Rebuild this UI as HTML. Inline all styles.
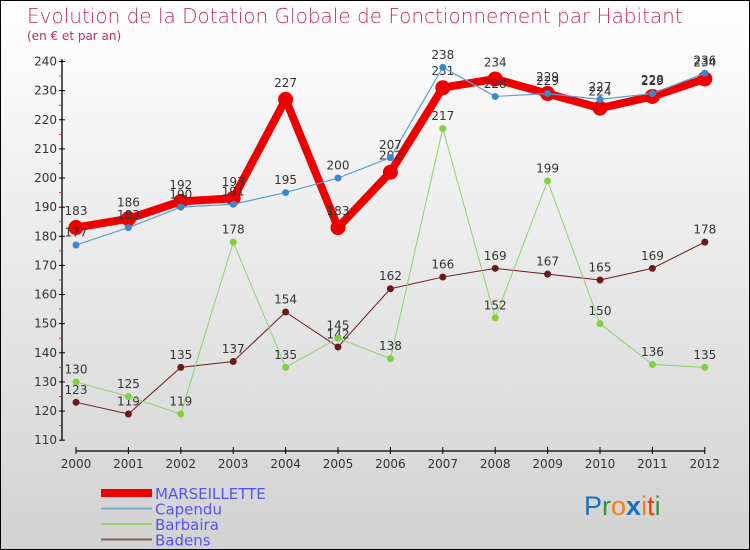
<!DOCTYPE html>
<html><head><meta charset="utf-8"><style>
html,body{margin:0;padding:0}
body{width:750px;height:550px;overflow:hidden;font-family:"DejaVu Sans","Liberation Sans",sans-serif}
#wrap{position:relative;width:748px;height:548px;border:1px solid #000;background:linear-gradient(#ffffff,#d2d2d2)}
</style></head><body>
<div id="wrap">
<svg id="chart" width="748" height="548" style="position:absolute;left:0;top:0">
<text x="26" y="22" font-size="20" fill="#c0305a" font-family="DejaVu Sans,sans-serif" font-weight="200">Evolution de la Dotation Globale de Fonctionnement par Habitant</text>
<text x="26" y="39" font-size="12" fill="#c0305a">(en € et par an)</text>
<g id="axes"></g><g id="series"></g><g id="legend"></g>
<text x="583" y="514" font-size="27" font-family="Liberation Sans,sans-serif"><tspan fill="#1a6fc0">P</tspan><tspan fill="#2a9a3a">r</tspan><tspan fill="#f08010">o</tspan><tspan fill="#1a6fc0" font-weight="bold">x</tspan><tspan fill="#f08010">i</tspan><tspan fill="#e04010">t</tspan><tspan fill="#2a9a3a">i</tspan></text>
</svg>
</div>
<script>
const years=[2000,2001,2002,2003,2004,2005,2006,2007,2008,2009,2010,2011,2012];
const yTicks=[110,120,130,140,150,160,170,180,190,200,210,220,230,240];
const marseillette=[183,186,192,193,227,183,202,231,234,229,224,228,234];
const capendu=[177,183,190,191,195,200,207,238,228,229,227,229,236];
const barbaira=[130,125,119,178,135,145,138,217,152,199,150,136,135];
const badens=[123,119,135,137,154,142,162,166,169,167,165,169,178];
const NS="http://www.w3.org/2000/svg";
function X(i){return 75+i*52.4;}
function Y(v){return 60.5+(240-v)*2.913;}
function mk(tag,attrs,parent){const e=document.createElementNS(NS,tag);for(const k in attrs)e.setAttribute(k,attrs[k]);parent.appendChild(e);return e;}
const ax=document.getElementById('axes');
let a=mk('line',{x1:61,y1:58,x2:61,y2:Y(110),stroke:'#000','stroke-width':1.3},ax);


yTicks.forEach(v=>{
 mk('line',{x1:58,y1:Y(v),x2:64,y2:Y(v),stroke:'#000'},ax);
 if(v<240)mk('line',{x1:58,y1:Y(v+5),x2:61,y2:Y(v+5),stroke:'#e03030'},ax);
 const t=mk('text',{x:56,y:Y(v)+4,'font-size':12,'text-anchor':'end',fill:'#333'},ax);t.textContent=v;
 
 
});
a=mk('line',{x1:X(0),y1:450,x2:X(12),y2:450,stroke:'#000','stroke-width':1.3},ax);


years.forEach((y,i)=>{
 mk('line',{x1:X(i),y1:446,x2:X(i),y2:453,stroke:'#000'},ax);
 const t=mk('text',{x:X(i),y:467,'font-size':12,'text-anchor':'middle',fill:'#333'},ax);t.textContent=y;
 
 
});
const series=[
 {name:'Badens',data:badens,color:'#6b1a1a',w:1,r:3.5,fill:'#6b1a1a'},
 {name:'Barbaira',data:barbaira,color:'#90d070',w:1,r:3.5,fill:'#80d040'},
 {name:'MARSEILLETTE',data:marseillette,color:'#ee0000',w:8,r:7.5,fill:'#ee0000'},
 {name:'Capendu',data:capendu,color:'#5fa0d0',w:1.2,r:3.5,fill:'#3a88cc'}
];
const sg=document.getElementById('series');
series.forEach(s=>{
 const g=mk('g',{},sg);
 
 
 const pts=s.data.map((v,i)=>X(i)+','+Y(v)).join(' ');
 mk('polyline',{points:pts,fill:'none',stroke:s.color,'stroke-width':s.w,'stroke-linejoin':'round'},g);
 s.data.forEach((v,i)=>{
  const c=mk('circle',{cx:X(i),cy:Y(v),r:s.r,fill:s.fill},g);
  
  
  const t=mk('text',{x:X(i),y:Y(v)-(s.r+5),'font-size':12,'text-anchor':'middle',fill:'#333'},g);t.textContent=v;
  
  
 });
});
const lg=document.getElementById('legend');
const legendItems=[['MARSEILLETTE','#ee0000',8],['Capendu','#7aaad0',2],['Barbaira','#98d078',2],['Badens','#8a5a5a',2]];
legendItems.forEach((l,i)=>{
 const y=492+i*15.5;
 const g=mk('g',{},lg);
 
 
 mk('line',{x1:100,y1:y,x2:151,y2:y,stroke:l[1],'stroke-width':l[2]},g);
 const t=mk('text',{x:154,y:y+6,'font-size':15,fill:'#5555ee'},g);t.textContent=l[0];
});
</script>
</body></html>
